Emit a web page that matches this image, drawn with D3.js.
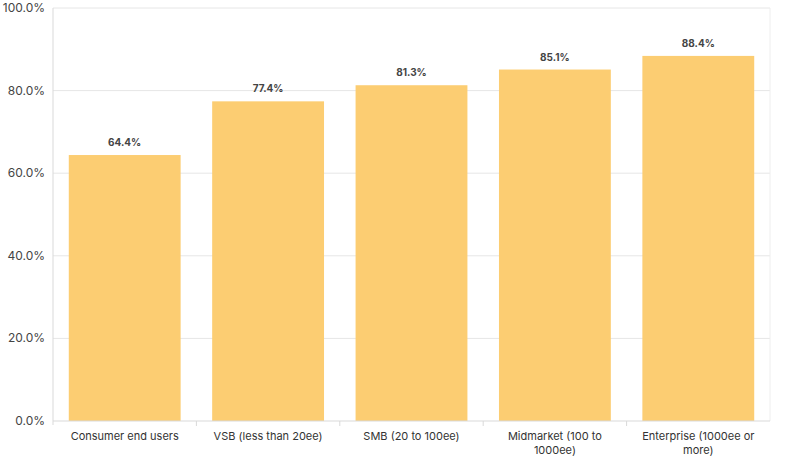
<!DOCTYPE html>
<html><head><meta charset="utf-8">
<script src="https://cdn.jsdelivr.net/npm/d3@7"></script>
<style>body{margin:0;background:#fff}text{font-family:Inter,"Open Sans",sans-serif}</style>
</head><body><svg id="c" width="800" height="465"></svg>
<script>
const categories = [["Consumer end users"],["VSB (less than 20ee)"],["SMB (20 to 100ee)"],["Midmarket (100 to","1000ee)"],["Enterprise (1000ee or","more)"]];
const values = [64.4, 77.4, 81.3, 85.1, 88.4];
const yTicks = [0,20,40,60,80,100];
const svg = d3.select("#c");
const L=53,R=770,T=8,B=421;
const x = d3.scaleBand().domain(d3.range(values.length)).range([L,R]).paddingInner(0.22).paddingOuter(0.11);
const y = d3.scaleLinear().domain([0,100]).range([B,T]);
svg.append("g").selectAll("line").data(yTicks.slice(1)).join("line")
 .attr("x1",L).attr("x2",R).attr("y1",d=>y(d)).attr("y2",d=>y(d)).attr("stroke","#e6e6e6");
svg.append("line").attr("x1",R).attr("x2",R).attr("y1",T).attr("y2",B).attr("stroke","#eeeeee");
svg.append("g").selectAll("text").data(yTicks).join("text")
 .attr("x",L-8).attr("y",d=>y(d)+4).attr("text-anchor","end").attr("font-size",12).attr("fill","#444").text(d=>d.toFixed(1)+"%");
svg.append("g").selectAll("rect").data(values).join("rect")
 .attr("x",(d,i)=>x(i)).attr("width",x.bandwidth()).attr("y",d=>y(d)).attr("height",d=>B-y(d)).attr("fill","#fccd72");
svg.append("g").selectAll("text").data(values).join("text")
 .attr("x",(d,i)=>x(i)+x.bandwidth()/2).attr("y",d=>y(d)-9).attr("text-anchor","middle")
 .attr("font-size",10).attr("font-weight","bold").attr("fill","#444").text(d=>d.toFixed(1)+"%");
svg.append("line").attr("x1",L).attr("x2",L).attr("y1",T).attr("y2",B+4).attr("stroke","#d9d9d9");
svg.append("line").attr("x1",L).attr("x2",R).attr("y1",B).attr("y2",B).attr("stroke","#d9d9d9");
svg.append("g").selectAll("line").data(d3.range(1,values.length)).join("line")
 .attr("x1",i=>L+i*(R-L)/values.length).attr("x2",i=>L+i*(R-L)/values.length).attr("y1",B).attr("y2",B+5).attr("stroke","#d9d9d9");
const lab = svg.append("g").selectAll("text").data(categories).join("text")
 .attr("text-anchor","middle").attr("font-size",11).attr("fill","#333");
lab.each(function(d,i){
 d3.select(this).selectAll("tspan").data(d).join("tspan")
  .attr("x",x(i)+x.bandwidth()/2).attr("y",(t,j)=>440+j*14).text(t=>t);
});
</script></body></html>
